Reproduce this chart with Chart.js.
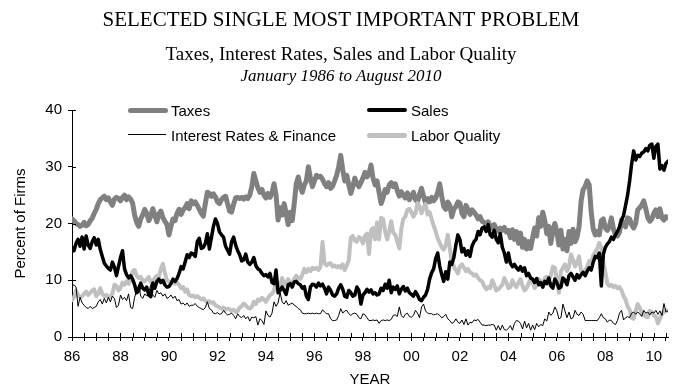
<!DOCTYPE html>
<html>
<head>
<meta charset="utf-8">
<script src="https://cdn.jsdelivr.net/npm/chart.js@4.4.1/dist/chart.umd.min.js"></script>
<style>
  body { margin: 0; background: #fff; }
  #wrap { position: relative; width: 690px; height: 392px; overflow: hidden; }
  #wrap canvas { position: absolute; left: 0; top: 0; }
  .t { position: absolute; left: 0; width: 682px; text-align: center; font-family: 'Liberation Serif', 'Times New Roman', serif; line-height: 1; white-space: nowrap; color: #000; }
  .lg { position: absolute; font: 15px/1 'Liberation Sans', Arial, sans-serif; white-space: nowrap; color: #000; }
  .sw { position: absolute; }
</style>
</head>
<body>
<div id="wrap">
  <canvas id="chart" width="690" height="392"></canvas>
  <div class="t" style="top:9px;font-size:21px">SELECTED SINGLE MOST IMPORTANT PROBLEM</div>
  <div class="t" style="top:44px;font-size:19px">Taxes, Interest Rates, Sales and Labor Quality</div>
  <div class="t" style="top:67px;font-size:17px;font-style:italic">January 1986 to August 2010</div>

  <div class="sw" style="left:128px;top:108px;width:40px;height:5px;background:#808080;border-radius:3px"></div>
  <div class="lg" style="left:171px;top:103px">Taxes</div>
  <div class="sw" style="left:367px;top:108px;width:40px;height:4px;background:#000;border-radius:2px"></div>
  <div class="lg" style="left:411px;top:103px">Sales</div>
  <div class="sw" style="left:128px;top:134px;width:38px;height:1px;background:#000"></div>
  <div class="lg" style="left:171px;top:128px">Interest Rates &amp; Finance</div>
  <div class="sw" style="left:367px;top:133px;width:40px;height:5px;background:#c0c0c0;border-radius:3px"></div>
  <div class="lg" style="left:411px;top:128px">Labor Quality</div>
</div>
<script>
// monthly values, Jan 1986 .. Aug 2010 (percent of firms)
const taxes = [
  20.8, 20.5, 20.0, 19.8, 19.5, 19.7, 20.2, 19.6, 19.8, 20.5, 20.9, 21.8, // 1986
  22.5, 23.5, 24.2, 24.5, 24.8, 24.2, 24.5, 23.8, 23.2, 24.3, 24.6, 24.4, // 1987
  24.0, 24.6, 25.0, 24.2, 24.7, 24.3, 23.6, 21.5, 20.2, 19.5, 20.8, 21.5, // 1988
  22.5, 21.8, 20.5, 21.3, 22.6, 21.5, 20.3, 21.7, 22.2, 21.0, 20.4, 19.8, // 1989
  18.0, 19.5, 20.8, 20.5, 21.8, 22.5, 21.6, 22.4, 22.8, 23.5, 22.6, 24.0, // 1990
  23.5, 23.8, 23.2, 22.5, 21.8, 21.3, 23.5, 25.5, 25.3, 24.8, 25.2, 24.7, // 1991
  23.8, 23.5, 24.2, 24.6, 24.8, 23.5, 22.2, 22.0, 23.4, 24.5, 24.6, 24.4, // 1992
  24.6, 24.3, 24.7, 24.4, 25.0, 26.5, 28.8, 27.5, 26.3, 25.5, 26.0, 25.0, // 1993
  24.5, 25.3, 24.6, 25.4, 27.0, 25.0, 20.6, 22.8, 21.5, 23.5, 21.8, 19.8, // 1994
  22.0, 20.5, 23.5, 27.0, 28.2, 26.5, 25.5, 26.8, 27.5, 30.0, 28.0, 26.5, // 1995
  27.5, 28.5, 28.2, 28.3, 27.8, 27.0, 26.5, 27.2, 26.2, 26.6, 27.5, 28.5, // 1996
  30.0, 32.0, 29.5, 27.5, 28.5, 26.8, 25.3, 26.5, 28.0, 27.0, 26.5, 27.2, // 1997
  28.0, 29.0, 28.2, 28.8, 30.3, 28.0, 26.8, 27.5, 25.5, 23.5, 24.5, 26.0, // 1998
  25.5, 26.8, 27.2, 26.5, 27.0, 25.8, 24.8, 25.6, 25.0, 24.5, 25.4, 24.2, // 1999
  24.8, 25.5, 24.2, 23.8, 25.2, 26.2, 24.8, 23.6, 24.4, 23.8, 24.6, 24.0, // 2000
  24.5, 25.5, 27.0, 24.8, 23.0, 22.5, 23.8, 23.2, 21.2, 22.5, 23.0, 23.8, // 2001
  23.6, 21.8, 21.2, 23.2, 22.5, 21.6, 22.4, 22.0, 21.5, 20.8, 21.2, 20.4, // 2002
  20.2, 19.8, 20.3, 19.5, 19.2, 19.8, 19.0, 18.6, 19.2, 18.8, 19.3, 18.5, // 2003
  18.8, 17.5, 18.9, 17.2, 18.6, 16.5, 18.3, 15.8, 17.2, 15.5, 16.8, 15.6, // 2004
  17.5, 19.2, 17.8, 21.0, 19.5, 22.0, 20.5, 18.2, 19.5, 16.5, 18.8, 20.0, // 2005
  18.5, 16.2, 18.8, 15.5, 17.2, 15.2, 18.6, 16.5, 19.0, 16.8, 17.6, 19.5, // 2006
  24.0, 26.0, 26.5, 27.5, 26.8, 22.0, 19.0, 18.0, 18.6, 18.0, 20.5, 20.8, // 2007
  19.2, 18.8, 19.5, 21.0, 19.0, 18.0, 17.8, 18.5, 20.6, 19.8, 19.4, 21.0, // 2008
  20.8, 19.8, 19.2, 20.0, 22.4, 22.8, 23.2, 24.0, 22.6, 21.0, 20.4, 20.8, // 2009
  21.8, 22.4, 21.2, 22.6, 21.0, 20.6, 21.2, 21.0                          // 2010
];
const sales = [
  15.8, 15.2, 16.5, 17.2, 16.0, 17.6, 15.5, 17.8, 16.2, 15.6, 16.8, 17.5,
  16.2, 17.2, 15.4, 14.2, 13.0, 12.5, 12.1, 11.8, 13.2, 12.3, 10.8, 12.4,
  14.0, 15.2, 12.0, 11.0, 10.4, 10.8, 10.2, 9.2, 7.8, 8.2, 9.5, 8.6,
  8.3, 8.8, 7.4, 7.1, 9.5, 8.6, 9.8, 10.2, 9.6, 10.0, 9.2, 8.8,
  8.9, 9.4, 10.2, 9.8, 10.3, 11.2, 12.4, 12.0, 13.2, 14.5, 14.0, 14.8,
  14.6, 14.2, 16.8, 17.4, 15.6, 15.8, 16.5, 18.2, 15.5, 17.5, 19.5, 20.8,
  20.0, 18.5, 18.0, 17.6, 16.0, 15.3, 14.6, 16.8, 17.6, 16.2, 15.2, 14.5,
  13.4, 13.6, 14.6, 13.2, 12.8, 13.2, 14.0, 12.6, 12.0, 11.8, 11.2, 10.8,
  11.0, 10.6, 11.2, 9.6, 9.4, 11.8, 7.8, 8.2, 8.8, 8.2, 7.5, 9.2,
  9.4, 8.8, 9.7, 9.8, 9.4, 9.2, 8.6, 8.9, 7.2, 6.6, 8.8, 9.3,
  9.2, 8.8, 9.5, 9.0, 9.3, 8.6, 7.6, 8.8, 8.2, 7.4, 7.2, 7.6,
  8.6, 9.2, 8.4, 7.2, 7.0, 8.2, 7.8, 7.2, 7.4, 8.8, 8.2, 5.8,
  7.4, 7.8, 8.4, 7.9, 8.3, 7.6, 7.8, 7.4, 7.6, 8.6, 8.2, 9.3,
  8.6, 10.0, 7.8, 8.8, 8.4, 9.0, 7.6, 8.4, 8.9, 8.1, 8.6, 7.8,
  7.5, 7.2, 8.0, 7.4, 6.6, 6.4, 7.0, 7.4, 8.4, 10.2, 11.3, 12.0,
  13.8, 14.8, 12.5, 11.0, 9.8, 11.5, 10.2, 13.2, 12.8, 14.0, 16.2, 18.0,
  17.2, 15.0, 15.6, 14.4, 15.2, 14.2, 16.0, 16.8, 17.2, 18.6, 18.0, 19.2,
  19.4, 18.6, 19.8, 18.0, 17.6, 18.8, 17.2, 16.6, 18.2, 15.8, 14.8, 13.2,
  14.8, 13.0, 12.4, 12.8, 12.2, 11.8, 12.4, 11.6, 12.2, 10.8, 11.2, 10.4,
  10.2, 9.6, 10.3, 9.2, 9.6, 8.8, 9.8, 9.4, 10.4, 9.0, 8.6, 10.2,
  9.6, 8.6, 8.8, 10.4, 10.0, 9.2, 10.8, 11.2, 10.6, 10.0, 11.0, 10.4,
  11.0, 11.4, 10.8, 11.6, 12.2, 11.8, 13.2, 14.2, 14.0, 14.8, 9.0, 14.6,
  15.8, 16.4, 16.8, 17.6, 17.2, 18.0, 18.6, 19.4, 20.6, 21.4, 23.2, 25.0,
  27.5, 30.5, 32.8, 31.2, 32.0, 31.8, 32.4, 32.6, 33.2, 32.8, 33.8, 34.0,
  31.5, 33.6, 34.0, 29.6, 30.2, 29.4, 30.6, 31.0
];
const interestRates = [
  9.0, 9.2, 8.8, 5.4, 7.0, 6.0, 5.6, 5.2, 5.0, 5.4, 5.0, 5.2,
  5.4, 6.2, 6.6, 5.8, 6.8, 6.0, 7.0, 6.2, 7.2, 6.8, 5.2, 5.6,
  7.4, 6.6, 7.0, 6.4, 7.6, 5.2, 5.0, 7.0, 8.2, 9.2, 7.2, 6.8,
  7.6, 7.2, 7.8, 9.2, 7.4, 7.0, 8.2, 7.6, 7.8, 7.2, 7.6, 6.8,
  7.0, 7.4, 6.8, 7.2, 6.4, 6.6, 5.8, 6.0, 5.6, 6.0, 5.4, 5.6,
  5.6, 5.9, 5.4, 5.2, 5.0, 4.8, 5.2, 6.2, 5.0, 4.8, 4.2, 4.1,
  4.3, 4.0, 4.1, 4.7, 4.2, 3.9, 4.0, 4.2, 3.8, 3.2, 4.1, 3.6,
  3.4, 3.8, 3.2, 3.6, 2.8, 3.5, 3.4, 3.6, 2.1, 3.2, 2.9, 2.2,
  4.6, 3.8, 3.5, 4.2, 6.2, 5.4, 6.0, 7.8, 6.2, 5.8, 6.4, 5.6,
  5.8, 6.0, 5.6, 5.4, 5.0, 4.8, 4.2, 4.1, 4.1, 4.2, 4.1, 4.2,
  4.1, 4.2, 4.1, 4.1, 4.8, 4.4, 4.1, 4.1, 3.2, 2.9, 2.9, 3.0,
  3.8, 5.0, 4.2, 4.6, 4.7, 4.1, 3.8, 4.1, 4.2, 4.0, 3.4, 3.2,
  4.1, 3.9, 3.4, 2.9, 2.9, 3.0, 2.9, 3.0, 2.4, 2.9, 3.0, 2.9,
  3.0, 2.9, 3.1, 3.8, 3.9, 3.6, 5.3, 3.8, 3.4, 4.0, 4.2, 3.6,
  3.5, 3.8, 4.7, 4.2, 3.4, 5.3, 5.8, 4.6, 4.2, 4.1, 4.1, 3.9,
  4.0, 4.1, 3.8, 3.4, 3.6, 4.0, 3.2, 2.9, 2.4, 2.6, 3.2, 2.6,
  2.4, 3.0, 2.2, 3.2, 2.1, 2.6, 2.5, 3.0, 2.9, 3.1, 2.6, 2.1,
  2.1, 2.0, 2.1, 2.1, 2.2, 2.1, 1.2, 2.0, 1.2, 2.1, 1.3, 1.2,
  1.5, 2.0, 1.2, 2.4, 2.9, 2.8, 2.4, 1.4, 2.8, 1.6, 2.4, 1.2,
  2.1, 1.3, 2.4, 1.8, 2.2, 2.0, 3.2, 2.8, 4.4, 3.8, 4.2, 5.3,
  4.6, 3.2, 3.4, 5.8, 4.6, 3.4, 4.4, 3.2, 3.4, 4.7, 4.0, 3.8,
  4.4, 4.0, 2.9, 2.9, 2.9, 2.9, 2.9, 2.9, 2.9, 3.4, 4.1, 3.4,
  3.2, 2.6, 3.0, 2.9, 2.4, 2.2, 2.9, 4.2, 4.7, 3.0, 3.4, 3.6,
  3.4, 4.2, 4.4, 4.0, 4.4, 4.1, 3.6, 4.7, 4.2, 4.4, 3.9, 4.4,
  4.2, 4.7, 4.0, 4.6, 3.8, 5.9, 4.4, 4.6
];
const laborQuality = [
  6.5, 7.0, 8.2, 7.4, 7.0, 7.2, 7.6, 8.0, 7.4, 7.8, 8.2, 8.4,
  7.2, 7.6, 8.6, 7.6, 7.2, 7.4, 7.0, 7.2, 7.6, 9.2, 9.0, 8.2,
  8.6, 9.6, 9.2, 9.8, 9.4, 10.2, 11.6, 11.8, 10.8, 10.4, 10.6, 10.0,
  9.8, 10.2, 10.6, 9.6, 9.8, 10.4, 10.8, 10.6, 12.0, 12.9, 11.2, 10.0,
  9.8, 9.6, 9.8, 9.4, 9.6, 9.2, 8.6, 8.8, 8.0, 8.4, 7.4, 7.2,
  7.3, 7.0, 7.2, 6.9, 6.6, 6.8, 6.4, 6.2, 6.3, 6.0, 6.1, 5.6,
  5.4, 5.2, 5.0, 5.2, 4.8, 5.0, 4.9, 4.6, 4.8, 4.4, 4.6, 5.2,
  5.4, 5.9, 5.6, 5.2, 5.0, 5.3, 6.2, 5.8, 6.6, 6.4, 6.9, 6.6,
  6.2, 6.8, 7.4, 7.6, 8.2, 10.0, 9.0, 8.8, 10.4, 9.2, 9.6, 10.2,
  9.4, 9.6, 10.2, 10.8, 10.4, 10.2, 11.0, 12.0, 11.4, 12.0, 11.6, 12.2,
  12.0, 12.2, 11.8, 12.4, 16.8, 13.0, 12.6, 12.9, 13.0, 12.4, 12.6, 12.3,
  12.5, 12.2, 12.8, 11.8, 12.6, 13.5, 17.5, 17.8, 17.0, 16.8, 17.6, 17.4,
  16.5, 17.8, 18.2, 14.6, 18.8, 19.2, 17.2, 20.2, 17.2, 21.0, 20.8, 18.6,
  17.2, 18.6, 20.4, 18.4, 18.0, 16.8, 15.6, 19.0, 20.8, 21.2, 22.4, 22.6,
  22.0, 21.2, 21.8, 23.6, 23.0, 21.8, 22.8, 23.4, 21.6, 22.0, 20.8, 19.6,
  18.6, 17.4, 16.6, 15.8, 15.4, 16.2, 18.0, 15.6, 13.2, 12.4, 11.8, 11.2,
  12.4, 12.8, 12.2, 11.6, 12.0, 11.4, 11.2, 10.8, 11.0, 10.4, 10.0, 9.8,
  9.0, 8.4, 8.8, 8.6, 10.0, 9.2, 8.2, 8.4, 8.8, 9.2, 10.4, 9.6,
  8.6, 8.8, 10.0, 9.2, 8.8, 9.6, 10.2, 9.0, 8.2, 8.6, 9.4, 10.2,
  9.6, 8.6, 9.2, 10.2, 9.8, 8.8, 10.4, 10.6, 10.0, 10.8, 12.4, 12.2,
  10.2, 7.8, 11.6, 12.2, 12.8, 11.6, 12.4, 14.6, 13.6, 12.4, 13.2, 14.2,
  11.6, 11.2, 11.8, 12.4, 13.4, 13.0, 14.4, 15.0, 15.6, 16.6, 15.8, 13.0,
  11.4, 9.4, 9.0, 9.2, 8.8, 9.0, 8.6, 8.8, 8.2, 7.2, 6.6, 5.4,
  4.8, 3.4, 3.2, 4.6, 5.8, 5.2, 4.2, 4.0, 3.6, 3.5, 4.6, 4.4,
  3.8, 3.6, 2.4, 3.2, 4.1, 4.4, 4.7, 4.6
];
const yearLabels = ['86', '88', '90', '92', '94', '96', '98', '00', '02', '04', '06', '08', '10'];
const percentTicks = [0, 10, 20, 30, 40];

// month number since Jan 1986, used as x position
const monthIndex = taxes.map((v, i) => i);

Chart.defaults.font.family = "'Liberation Sans', Arial, sans-serif";
Chart.defaults.font.size = 15;
Chart.defaults.color = '#000';

// tick marks that cross the axis line (Chart.js only draws the outer half)
const innerTicks = {
  id: 'innerTicks',
  afterDraw(chart) {
    const { ctx, chartArea, scales } = chart;
    ctx.save();
    ctx.strokeStyle = '#000';
    ctx.lineWidth = 1;
    ctx.beginPath();
    scales.x.ticks.forEach(t => {
      const px = Math.round(scales.x.getPixelForValue(t.value)) + 0.5;
      ctx.moveTo(px, chartArea.bottom);
      ctx.lineTo(px, chartArea.bottom - 4);
    });
    scales.y.ticks.forEach(t => {
      const py = Math.round(scales.y.getPixelForValue(t.value)) + 0.5;
      ctx.moveTo(chartArea.left, py);
      ctx.lineTo(chartArea.left + 4, py);
    });
    ctx.stroke();
    ctx.restore();
  }
};

let ctx = document.getElementById('chart').getContext('2d');
let myChart = new Chart(ctx, {
  type: 'line',
  data: {
    labels: monthIndex,
    datasets: [
      { label: 'Interest Rates & Finance', data: interestRates, borderColor: '#000000', borderWidth: 1 },
      { label: 'Sales', data: sales, borderColor: '#000000', borderWidth: 3.5 },
      { label: 'Labor Quality', data: laborQuality, borderColor: '#c0c0c0', borderWidth: 4 },
      { label: 'Taxes', data: taxes, borderColor: '#808080', borderWidth: 5 }
    ]
  },
  options: {
    responsive: false,
    animation: false,
    devicePixelRatio: 1,
    layout: { padding: { top: 110, right: 22, bottom: 0, left: 0 } },
    elements: {
      point: { radius: 0 },
      line: { tension: 0, fill: false, borderJoinStyle: 'round', borderCapStyle: 'round' }
    },
    plugins: {
      legend: { display: false },
      tooltip: { enabled: false }
    },
    scales: {
      x: {
        type: 'linear',
        min: 0,
        max: 295,
        bounds: 'data',
        afterBuildTicks: s => { s.ticks = s.ticks.filter(t => t.value % 6 === 0); },
        afterFit: s => { s.height = 55; },
        border: { display: true, color: '#000', width: 1 },
        grid: { drawOnChartArea: false, drawTicks: true, tickLength: 4, color: '#000' },
        ticks: {
          stepSize: 6,
          autoSkip: false,
          maxRotation: 0,
          includeBounds: false,
          padding: 7,
          callback: v => (v % 24 === 0 ? yearLabels[v / 24] : '')
        },
        title: { display: true, text: 'YEAR', padding: { top: 0, bottom: 3 } }
      },
      y: {
        min: 0,
        max: 40,
        afterBuildTicks: s => { s.ticks = percentTicks.map(v => ({ value: v })); },
        afterFit: s => { s.width = 72; },
        border: { display: true, color: '#000', width: 1 },
        grid: { drawOnChartArea: false, drawTicks: true, tickLength: 4, color: '#000' },
        ticks: { stepSize: 10, padding: 6 },
        title: { display: true, text: 'Percent of Firms', padding: { top: 12, bottom: 0 } }
      }
    }
  },
  plugins: [innerTicks]
});
</script>
</body>
</html>
